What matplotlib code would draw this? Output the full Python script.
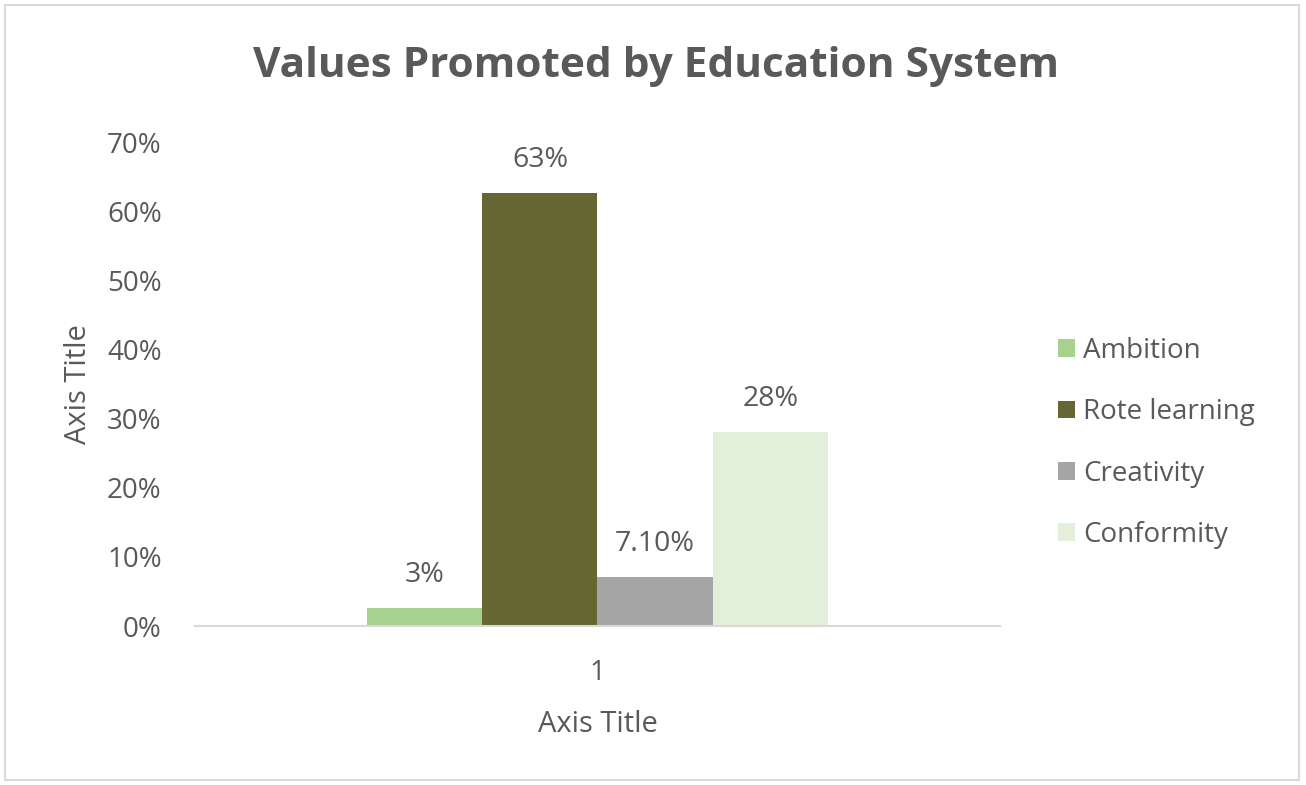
import matplotlib
matplotlib.use("Agg")
import matplotlib.pyplot as plt
from matplotlib.patches import Rectangle
from matplotlib.ticker import FuncFormatter

# Survey shares per value
series = ["Ambition", "Rote learning", "Creativity", "Conformity"]
values = [0.026, 0.626, 0.071, 0.28]
label_decimals = [0, 0, 2, 0]
colors = ["#A9D18E", "#666633", "#A5A5A5", "#E2EFDA"]
category_labels = ["1"]
y_ticks = [0.0, 0.1, 0.2, 0.3, 0.4, 0.5, 0.6, 0.7]

TEXT = "#595959"
FS = 20
plt.rcParams["font.family"] = ["Open Sans", "DejaVu Sans"]

fig = plt.figure(figsize=(13.06, 7.85), dpi=100)
fig.patch.set_facecolor("white")
fig.add_artist(Rectangle((0.004, 0.006), 0.991, 0.987, transform=fig.transFigure,
                         fill=False, edgecolor="#D9D9D9", linewidth=1.5))

ax = fig.add_axes([0.1493, 0.2025, 0.6164, 0.6166])
bar_w = 0.143
n = len(series)
offsets = [(i - (n - 1) / 2) * bar_w for i in range(n)]
for name, v, dec, c, off in zip(series, values, label_decimals, colors, offsets):
    ax.bar(off, v, width=bar_w, color=c, label=name, zorder=2)
    ax.annotate(f"{v:.{dec}%}", (off, v), xytext=(0, 24), textcoords="offset points",
                ha="center", va="center", fontsize=FS + 0.5, color=TEXT)

ax.set_xlim(-0.5, 0.5)
ax.set_ylim(0, 0.7)
ax.set_yticks(y_ticks)
ax.yaxis.set_major_formatter(FuncFormatter(lambda y, _: f"{y:.0%}"))
ax.set_xticks([0])
ax.set_xticklabels(category_labels)
for s in ["top", "right", "left"]:
    ax.spines[s].set_visible(False)
ax.spines["bottom"].set_color("#D9D9D9")
ax.spines["bottom"].set_linewidth(1.5)
ax.tick_params(axis="both", length=0, labelsize=FS, labelcolor=TEXT)
ax.tick_params(axis="y", pad=24)
ax.tick_params(axis="x", pad=24)
ax.set_xlabel("Axis Title", fontsize=FS + 1, color=TEXT, labelpad=16)
ax.set_ylabel("Axis Title", fontsize=FS + 1, color=TEXT, labelpad=10)

fig.text(0.502, 0.915, "Values Promoted by Education System", ha="center", va="center",
         fontsize=30.5, fontweight="bold", color=TEXT)

leg = ax.legend(loc="center left", bbox_to_anchor=(1.072, 0.378), frameon=False,
                fontsize=FS, labelcolor=TEXT, handlelength=0.6, handleheight=0.6,
                handletextpad=0.3, labelspacing=1.2, borderpad=0, borderaxespad=0)

fig.savefig("out.png", dpi=100)
